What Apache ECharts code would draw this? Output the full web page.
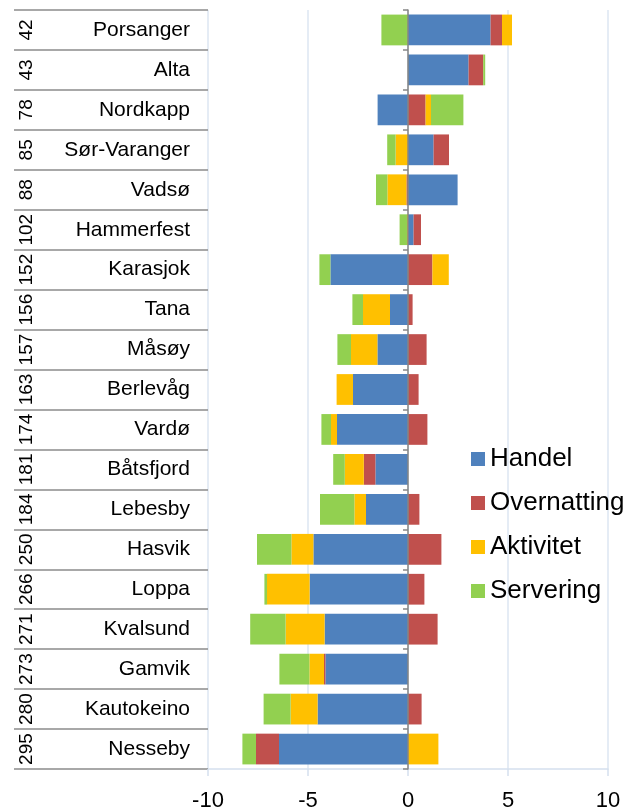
<!DOCTYPE html>
<html>
<head>
<meta charset="utf-8">
<script src="https://cdn.jsdelivr.net/npm/echarts@6/dist/echarts.min.js"></script>
<style>html,body{margin:0;padding:0;background:#fff;}#c{width:633px;height:812px;}</style>
</head>
<body>
<div id="c"></div>
<script>
var categories = ['Porsanger','Alta','Nordkapp','Sør-Varanger','Vadsø','Hammerfest','Karasjok','Tana','Måsøy','Berlevåg','Vardø','Båtsfjord','Lebesby','Hasvik','Loppa','Kvalsund','Gamvik','Kautokeino','Nesseby'];
var ranks = ['42','43','78','85','88','102','152','156','157','163','174','181','184','250','266','271','273','280','295'];
var handel = [4.13,3.03,-1.52,1.28,2.48,0.28,-3.88,-0.9,-1.53,-2.75,-3.55,-1.63,-2.1,-4.73,-4.92,-4.17,-4.13,-4.52,-6.45];
var overnatting = [0.57,0.73,0.88,0.77,-0.08,0.37,1.22,0.23,0.93,0.53,0.97,-0.58,0.57,1.67,0.82,1.48,-0.07,0.68,-1.15];
var aktivitet = [0.5,0,0.27,-0.62,-0.95,-0.05,0.82,-1.35,-1.32,-0.82,-0.3,-0.95,-0.58,-1.1,-2.13,-1.95,-0.73,-1.35,1.52];
var servering = [-1.33,0.1,1.62,-0.42,-0.57,-0.37,-0.55,-0.53,-0.68,0,-0.48,-0.58,-1.72,-1.72,-0.13,-1.77,-1.5,-1.35,-0.68];
var seriesNames = ['Handel','Overnatting','Aktivitet','Servering'];
var xTicks = [-10,-5,0,5,10];

var font = "'Liberation Sans', Arial, sans-serif";
var colors = ['#4F81BD','#C0504D','#FFC000','#92D050'];
var chart = echarts.init(document.getElementById('c'));
var values = [handel, overnatting, aktivitet, servering];

chart.setOption({
  animation: false,
  color: colors,
  textStyle: { fontFamily: font },
  grid: { left: 208, right: 25, top: 10, bottom: 40, containLabel: false },
  legend: {
    orient: 'vertical', left: 466, top: 441,
    itemWidth: 14, itemHeight: 14, itemGap: 18,
    icon: 'rect',
    data: seriesNames,
    textStyle: { fontFamily: font, fontSize: 26, lineHeight: 26, color: '#000' }
  },
  xAxis: {
    type: 'value', min: xTicks[0], max: xTicks[xTicks.length-1], interval: 5,
    axisLine: { show: true, onZero: false, lineStyle: { color: '#D5E0EE', width: 1.5 } },
    axisTick: { show: true, length: 7, lineStyle: { color: '#D5E0EE', width: 1.5 } },
    splitLine: { show: true, lineStyle: { color: '#DCE6F2', width: 1.5 } },
    axisLabel: { fontSize: 22, color: '#000', margin: 21, fontFamily: font }
  },
  yAxis: [
    {
      type: 'category', data: categories, inverse: true, position: 'left', z: 5,
      axisLine: { show: true, onZero: true, lineStyle: { color: '#868686', width: 1.5 } },
      axisTick: { show: true, length: 5, interval: 0, lineStyle: { color: '#868686', width: 1.5 } },
      axisLabel: { show: false },
      splitLine: { show: false }
    },
    {
      type: 'category', data: categories, inverse: true, position: 'left',
      axisLine: { show: false, onZero: false },
      axisTick: { show: true, length: 194, interval: 0, lineStyle: { color: '#8C8C8C', width: 1.5 } },
      axisLabel: { show: true, interval: 0, fontSize: 21, color: '#000', margin: 18, fontFamily: font },
      splitLine: { show: false }
    },
    {
      type: 'category', data: ranks, inverse: true, position: 'left',
      axisLine: { show: false, onZero: false },
      axisTick: { show: false },
      axisLabel: { show: true, interval: 0, rotate: 90, fontSize: 19, color: '#000', margin: 172, fontFamily: font },
      splitLine: { show: false }
    }
  ],
  series: seriesNames.map(function (name, i) {
    return {
      name: name, type: 'bar', stack: 'total', yAxisIndex: 0,
      barCategoryGap: '23%',
      data: values[i],
      itemStyle: { color: colors[i] }
    };
  })
});
</script>
</body>
</html>
